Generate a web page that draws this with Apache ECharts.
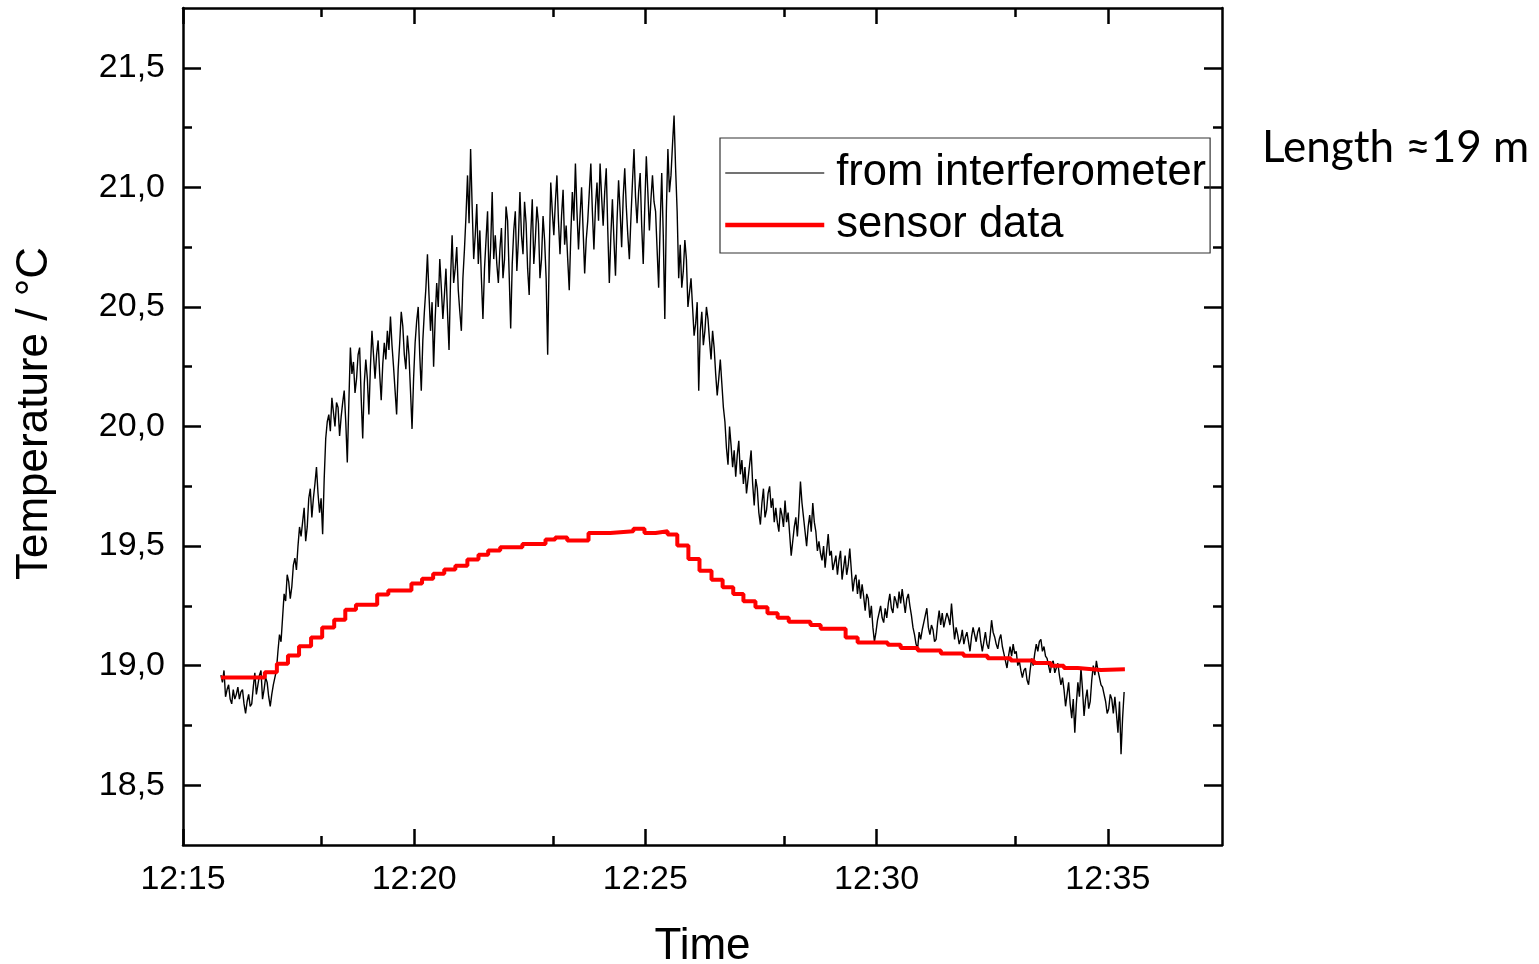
<!DOCTYPE html>
<html>
<head>
<meta charset="utf-8">
<title>Temperature: interferometer vs. sensor</title>
<script src="https://cdn.jsdelivr.net/npm/echarts@6/dist/echarts.min.js"></script>
<style>
  html, body { margin: 0; padding: 0; background: #fff; }
  #chart { width: 1539px; height: 964px; }
</style>
</head>
<body>
<div id="chart"></div>
<script>
// Time is expressed in minutes after 12:00.
const xMin = 15, xMax = 37.47, xMajorTicks = [15, 20, 25, 30, 35], xMinorTicks = [18, 23, 28, 33];
const yMin = 18.25, yMax = 21.75;
const yMajorTicks = [18.5, 19.0, 19.5, 20.0, 20.5, 21.0, 21.5];
const yMinorTicks = [18.75, 19.25, 19.75, 20.25, 20.75, 21.25];

// Interferometer record: first sample at 12:15:49, one sample every 2 s.
const interfStart = 15.82;
const interfStepSec = 2;
const interfTemp = [
  18.96, 18.93, 18.98, 18.87, 18.90, 18.92, 18.86, 18.84, 18.90, 18.86, 18.88, 18.91, 18.86, 18.89, 18.90, 18.84, 18.80, 18.85, 18.88, 18.83,
  18.84, 18.91, 18.97, 18.88, 18.92, 18.96, 18.98, 18.86, 18.90, 18.95, 18.93, 18.87, 18.83, 18.88, 18.92, 18.95, 18.98, 19.06, 19.13, 19.10,
  19.20, 19.30, 19.27, 19.38, 19.35, 19.28, 19.33, 19.42, 19.45, 19.40, 19.50, 19.58, 19.54, 19.60, 19.66, 19.52, 19.58, 19.70, 19.74, 19.62,
  19.70, 19.76, 19.83, 19.72, 19.64, 19.70, 19.55, 19.78, 19.95, 20.02, 20.05, 19.98, 20.12, 20.06, 20.00, 20.10, 20.08, 19.96, 20.04, 20.10,
  20.15, 20.02, 19.85, 20.10, 20.33, 20.22, 20.27, 20.14, 20.20, 20.30, 20.33, 20.12, 19.95, 20.18, 20.28, 20.20, 20.05, 20.25, 20.40, 20.30,
  20.20, 20.30, 20.36, 20.22, 20.11, 20.26, 20.35, 20.28, 20.40, 20.32, 20.46, 20.34, 20.25, 20.15, 20.05, 20.24, 20.35, 20.48, 20.42, 20.30,
  20.24, 20.38, 20.30, 20.15, 19.99, 20.20, 20.35, 20.44, 20.50, 20.30, 20.15, 20.36, 20.48, 20.58, 20.72, 20.55, 20.40, 20.52, 20.25, 20.45,
  20.60, 20.50, 20.70, 20.58, 20.45, 20.55, 20.66, 20.48, 20.32, 20.62, 20.80, 20.60, 20.66, 20.75, 20.57, 20.48, 20.40, 20.62, 20.74, 20.88,
  21.05, 20.85, 21.16, 20.92, 20.70, 20.80, 20.93, 20.68, 20.82, 20.62, 20.45, 20.66, 20.78, 20.90, 20.60, 20.75, 20.98, 20.70, 20.80, 20.68,
  20.60, 20.74, 20.83, 20.62, 20.70, 20.92, 20.86, 20.64, 20.41, 20.68, 20.82, 20.90, 20.65, 20.78, 20.98, 20.80, 20.72, 20.94, 20.85, 20.66,
  20.55, 20.80, 20.95, 20.68, 20.78, 20.92, 20.85, 20.62, 20.70, 20.88, 20.78, 20.62, 20.30, 20.72, 21.02, 20.90, 20.80, 20.94, 21.05, 20.86,
  20.72, 20.88, 20.99, 20.76, 20.84, 20.70, 20.57, 20.80, 20.98, 20.86, 21.10, 20.90, 20.74, 20.88, 21.00, 20.82, 20.64, 20.78, 20.86, 20.98,
  21.10, 20.90, 20.74, 20.92, 21.02, 20.86, 21.10, 20.96, 20.84, 20.98, 21.08, 20.82, 20.60, 20.80, 20.95, 20.78, 20.63, 20.86, 21.03, 20.90,
  20.75, 20.96, 21.08, 20.92, 20.80, 20.70, 20.87, 21.02, 21.16, 20.96, 20.85, 20.98, 21.06, 20.84, 20.68, 20.92, 21.13, 20.98, 20.82, 20.95,
  21.05, 20.94, 20.90, 20.74, 20.58, 20.85, 21.06, 20.80, 20.45, 20.90, 21.16, 20.98, 21.05, 21.18, 21.30, 21.08, 20.90, 20.62, 20.76, 20.58,
  20.65, 20.78, 20.70, 20.50, 20.56, 20.62, 20.50, 20.38, 20.43, 20.52, 20.15, 20.40, 20.48, 20.34, 20.40, 20.50, 20.45, 20.36, 20.28, 20.40,
  20.33, 20.22, 20.13, 20.20, 20.28, 20.18, 20.08, 20.02, 19.91, 19.84, 20.00, 19.92, 19.83, 19.90, 19.79, 19.88, 19.94, 19.80, 19.86, 19.76,
  19.83, 19.72, 19.78, 19.84, 19.90, 19.76, 19.67, 19.78, 19.74, 19.64, 19.59, 19.68, 19.74, 19.62, 19.65, 19.72, 19.75, 19.66, 19.70, 19.60,
  19.66, 19.60, 19.56, 19.66, 19.63, 19.58, 19.69, 19.60, 19.64, 19.55, 19.46, 19.52, 19.58, 19.62, 19.54, 19.64, 19.77, 19.68, 19.62, 19.56,
  19.50, 19.58, 19.63, 19.56, 19.68, 19.60, 19.56, 19.48, 19.52, 19.47, 19.44, 19.50, 19.41, 19.48, 19.55, 19.46, 19.48, 19.40, 19.43, 19.46,
  19.38, 19.44, 19.48, 19.36, 19.41, 19.46, 19.38, 19.42, 19.49, 19.40, 19.31, 19.36, 19.38, 19.30, 19.36, 19.28, 19.34, 19.29, 19.23, 19.30,
  19.28, 19.20, 19.25, 19.16, 19.10, 19.14, 19.19, 19.22, 19.25, 19.20, 19.18, 19.24, 19.20, 19.26, 19.30, 19.24, 19.22, 19.29, 19.27, 19.24,
  19.31, 19.26, 19.32, 19.27, 19.22, 19.28, 19.30, 19.25, 19.21, 19.16, 19.13, 19.09, 19.07, 19.14, 19.11, 19.15, 19.18, 19.21, 19.24, 19.16,
  19.13, 19.17, 19.15, 19.10, 19.11, 19.18, 19.23, 19.17, 19.22, 19.16, 19.19, 19.22, 19.20, 19.17, 19.26, 19.18, 19.11, 19.16, 19.13, 19.09,
  19.11, 19.15, 19.09, 19.12, 19.14, 19.10, 19.06, 19.12, 19.16, 19.13, 19.10, 19.14, 19.16, 19.10, 19.06, 19.10, 19.14, 19.09, 19.07, 19.12,
  19.19, 19.14, 19.12, 19.09, 19.07, 19.11, 19.13, 19.08, 19.05, 19.02, 18.99, 19.04, 19.08, 19.04, 19.09, 19.05, 19.06, 19.00, 19.02, 18.98,
  18.95, 18.98, 18.99, 18.94, 18.92, 18.98, 19.03, 19.00, 19.05, 19.09, 19.06, 19.10, 19.11, 19.06, 19.08, 19.04, 19.03, 19.00, 18.97, 19.01,
  19.02, 18.97, 18.99, 19.01, 18.96, 18.92, 18.95, 18.90, 18.83, 18.88, 18.93, 18.84, 18.78, 18.86, 18.72, 18.84, 18.93, 18.87, 18.99, 18.90,
  18.79, 18.86, 18.90, 18.82, 18.85, 18.94, 19.00, 18.96, 19.02, 18.98, 18.95, 18.92, 18.91, 18.88, 18.85, 18.80, 18.82, 18.88, 18.86, 18.80,
  18.87, 18.80, 18.72, 18.85, 18.63, 18.78, 18.89
];

// Sensor log: each value holds from its time stamp until the next one.
const sensorTime = [
  15.82, 16.77, 17.03, 17.27, 17.51, 17.77, 18.01, 18.27, 18.51, 18.74,
  19.20, 19.44, 19.94, 20.17, 20.41, 20.65, 20.89, 21.15, 21.39, 21.60,
  21.86, 22.34, 22.84, 23.05, 23.31, 23.77, 24.24, 24.74, 24.98, 25.22,
  25.48, 25.69, 25.93, 26.17, 26.43, 26.67, 26.90, 27.12, 27.38, 27.64,
  27.86, 28.10, 28.57, 28.79, 29.33, 29.59, 30.24, 30.52, 30.89, 31.39,
  31.88, 32.40, 32.90, 33.40, 33.77, 34.05, 34.35, 34.85, 35.37
];
const sensorTemp = [
  18.950, 18.972, 19.008, 19.042, 19.081, 19.118, 19.160, 19.192, 19.234, 19.255,
  19.297, 19.314, 19.344, 19.363, 19.384, 19.402, 19.418, 19.444, 19.464, 19.481,
  19.495, 19.509, 19.527, 19.536, 19.523, 19.555, 19.562, 19.572, 19.555, 19.562,
  19.548, 19.502, 19.446, 19.397, 19.359, 19.328, 19.300, 19.269, 19.244, 19.219,
  19.200, 19.184, 19.170, 19.154, 19.118, 19.097, 19.087, 19.074, 19.063, 19.051,
  19.041, 19.031, 19.021, 19.011, 19.000, 18.990, 18.982, 18.985, 18.985
];

const interfData = interfTemp.map((v, i) => [interfStart + i * interfStepSec / 60, v]);
const sensorData = sensorTime.map((t, i) => [t, sensorTemp[i]]);

const FONT = '"Liberation Sans", Arial, sans-serif';
const AXIS_W = 2.5;

function clockLabel(v) {
  const m = Math.round(v);
  return '12:' + (m < 10 ? '0' + m : m);
}
function tempLabel(v) {
  return v.toFixed(1).replace('.', ',');
}

function xAxisDef(position, ticks, len, withLine, withLabels) {
  return {
    type: 'value', position, min: xMin, max: xMax,
    axisLine: { show: withLine, onZero: false, lineStyle: { color: '#000', width: AXIS_W } },
    axisTick: { show: true, inside: true, length: len, customValues: ticks,
                lineStyle: { color: '#000', width: AXIS_W } },
    axisLabel: withLabels
      ? { show: true, customValues: ticks, formatter: clockLabel, color: '#000',
          fontFamily: FONT, fontSize: 34, margin: 18 }
      : { show: false },
    splitLine: { show: false }
  };
}
function yAxisDef(position, ticks, len, withLine, withLabels) {
  return {
    type: 'value', position, min: yMin, max: yMax,
    axisLine: { show: withLine, onZero: false, lineStyle: { color: '#000', width: AXIS_W } },
    axisTick: { show: true, inside: true, length: len, customValues: ticks,
                lineStyle: { color: '#000', width: AXIS_W } },
    axisLabel: withLabels
      ? { show: true, customValues: ticks, formatter: tempLabel, color: '#000',
          fontFamily: FONT, fontSize: 34, margin: 18 }
      : { show: false },
    splitLine: { show: false }
  };
}

const xBottom = xAxisDef('bottom', xMajorTicks, 16, true, true);
xBottom.name = 'Time';
xBottom.nameLocation = 'middle';
xBottom.nameGap = 80;
xBottom.nameTextStyle = { color: '#000', fontFamily: FONT, fontSize: 44 };

const yLeft = yAxisDef('left', yMajorTicks, 18, true, true);
yLeft.name = 'Temperature / °C';
yLeft.nameLocation = 'middle';
yLeft.nameGap = 126;
yLeft.nameTextStyle = { color: '#000', fontFamily: FONT, fontSize: 44, padding: [0, 0, 0, 26] };

const chart = echarts.init(document.getElementById('chart'), null, { renderer: 'canvas' });
chart.setOption({
  animation: false,
  backgroundColor: '#fff',
  grid: { left: 183, right: 317, top: 8, bottom: 119, containLabel: false, outerBoundsMode: 'none' },
  xAxis: [
    xBottom,
    xAxisDef('bottom', xMinorTicks, 9, false, false),
    xAxisDef('top', xMajorTicks, 16, true, false),
    xAxisDef('top', xMinorTicks, 9, false, false)
  ],
  yAxis: [
    yLeft,
    yAxisDef('left', yMinorTicks, 9, false, false),
    yAxisDef('right', yMajorTicks, 18, true, false),
    yAxisDef('right', yMinorTicks, 9, false, false)
  ],
  legend: {
    orient: 'vertical',
    left: 720, top: 138,
    padding: [13, 4, 6, 3],
    borderColor: '#333', borderWidth: 1.2,
    itemWidth: 99, itemHeight: 12, itemGap: 8,
    itemStyle: { opacity: 0 },
    textStyle: { color: '#000', fontFamily: FONT, fontSize: 43.5, padding: [2, 0, 0, 7] },
    data: [
      { name: 'from interferometer', lineStyle: { color: '#444', width: 1.5 } },
      { name: 'sensor data', lineStyle: { color: '#ff0000', width: 4.5 } }
    ]
  },
  graphic: [{
    type: 'text', left: 1262, top: 126,
    style: { text: 'Length \u224819 m', fill: '#000', font: '44px Lato, "Open Sans", sans-serif' }
  }],
  series: [
    {
      name: 'from interferometer', type: 'line', data: interfData,
      xAxisIndex: 0, yAxisIndex: 0, symbol: 'none',
      lineStyle: { color: '#000', width: 1.4 }, itemStyle: { color: '#000' }
    },
    {
      name: 'sensor data', type: 'line', data: sensorData, step: 'end',
      xAxisIndex: 0, yAxisIndex: 0, symbol: 'none',
      lineStyle: { color: '#ff0000', width: 4 }, itemStyle: { color: '#ff0000' }
    }
  ]
});
</script>
</body>
</html>
